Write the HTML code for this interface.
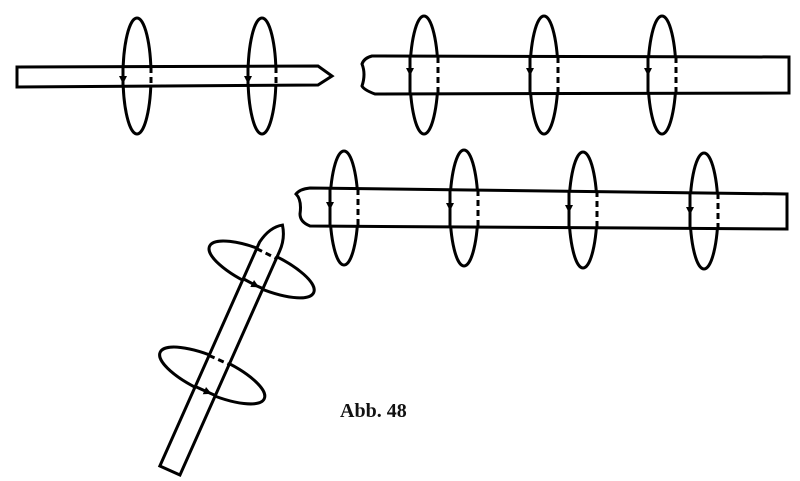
<!DOCTYPE html>
<html><head><meta charset="utf-8"><style>
html,body{margin:0;padding:0;background:#fff;}
svg{display:block}
</style></head><body>
<svg width="800" height="481" viewBox="0 0 800 481" xmlns="http://www.w3.org/2000/svg">
<defs>
<marker id="ar" markerWidth="8" markerHeight="8" refX="4" refY="4" orient="auto" markerUnits="userSpaceOnUse">
<path d="M0,0 L8,4 L0,8 Z" fill="#000"/>
</marker>
</defs>
<g fill="none" stroke="#000" stroke-width="3">
<ellipse cx="137" cy="76" rx="14" ry="58"/>
<ellipse cx="262" cy="76" rx="14" ry="58"/>
<path d="M17,67 L318,66 L332,76 L318,85 L17,87 Z" fill="#fff"/>
<line x1="123" y1="67" x2="123" y2="80" marker-end="url(#ar)"/><line x1="123" y1="80" x2="123" y2="87"/>
<line x1="151" y1="67" x2="151" y2="87" stroke-dasharray="6,4"/>
<line x1="248" y1="67" x2="248" y2="80" marker-end="url(#ar)"/><line x1="248" y1="80" x2="248" y2="87"/>
<line x1="276" y1="67" x2="276" y2="87" stroke-dasharray="6,4"/>

<ellipse cx="424" cy="75" rx="14" ry="59"/>
<ellipse cx="544" cy="75" rx="14" ry="59"/>
<ellipse cx="662" cy="75" rx="14" ry="59"/>
<path d="M372,56 L789,57 L789,93 L375,94 Q364,90 362,86 Q366,74 362,64 Q364,58 372,56 Z" fill="#fff"/>
<line x1="410" y1="57" x2="410" y2="72" marker-end="url(#ar)"/><line x1="410" y1="72" x2="410" y2="93"/>
<line x1="438" y1="57" x2="438" y2="93" stroke-dasharray="6,4"/>
<line x1="530" y1="57" x2="530" y2="72" marker-end="url(#ar)"/><line x1="530" y1="72" x2="530" y2="93"/>
<line x1="558" y1="57" x2="558" y2="93" stroke-dasharray="6,4"/>
<line x1="648" y1="57" x2="648" y2="72" marker-end="url(#ar)"/><line x1="648" y1="72" x2="648" y2="93"/>
<line x1="676" y1="57" x2="676" y2="93" stroke-dasharray="6,4"/>

<ellipse cx="344" cy="208" rx="14" ry="57"/>
<ellipse cx="464" cy="208" rx="14" ry="58"/>
<ellipse cx="583" cy="210" rx="14" ry="58"/>
<ellipse cx="704" cy="211" rx="14" ry="58"/>
<path d="M310,188 L787,194 L787,229 L310,226 Q300,222 300,214 Q302,200 296,194 Q300,189 310,188 Z" fill="#fff"/>
<line x1="330" y1="189" x2="330" y2="206" marker-end="url(#ar)"/><line x1="330" y1="206" x2="330" y2="226"/>
<line x1="358" y1="189" x2="358" y2="226" stroke-dasharray="6,4"/>
<line x1="450" y1="190" x2="450" y2="207" marker-end="url(#ar)"/><line x1="450" y1="207" x2="450" y2="227"/>
<line x1="478" y1="190" x2="478" y2="227" stroke-dasharray="6,4"/>
<line x1="569" y1="191" x2="569" y2="209" marker-end="url(#ar)"/><line x1="569" y1="209" x2="569" y2="228"/>
<line x1="597" y1="191" x2="597" y2="228" stroke-dasharray="6,4"/>
<line x1="690" y1="193" x2="690" y2="211" marker-end="url(#ar)"/><line x1="690" y1="211" x2="690" y2="229"/>
<line x1="718" y1="193" x2="718" y2="229" stroke-dasharray="6,4"/>

<g transform="translate(224,349) rotate(24)">
<ellipse cx="2" cy="-88" rx="57" ry="18"/>
<ellipse cx="0" cy="29" rx="57" ry="18"/>
<path d="M-11,133 L-11,-112 Q-8,-130 3,-137 Q11,-126 11,-112 L11,133 Z" fill="#fff"/>
<line x1="-11" y1="-72" x2="3" y2="-71" marker-end="url(#ar)"/><line x1="3" y1="-71" x2="11" y2="-71"/>
<line x1="-11" y1="-105" x2="11" y2="-104" stroke-dasharray="6,4"/>
<line x1="-11" y1="46" x2="3" y2="46" marker-end="url(#ar)"/><line x1="3" y1="46" x2="11" y2="46"/>
<line x1="-11" y1="12" x2="11" y2="12" stroke-dasharray="6,4"/>
</g>
</g>
<text x="340" y="417" font-family="Liberation Serif, serif" font-size="20" font-weight="bold" fill="#111">Abb. 48</text>
</svg>
</body></html>
